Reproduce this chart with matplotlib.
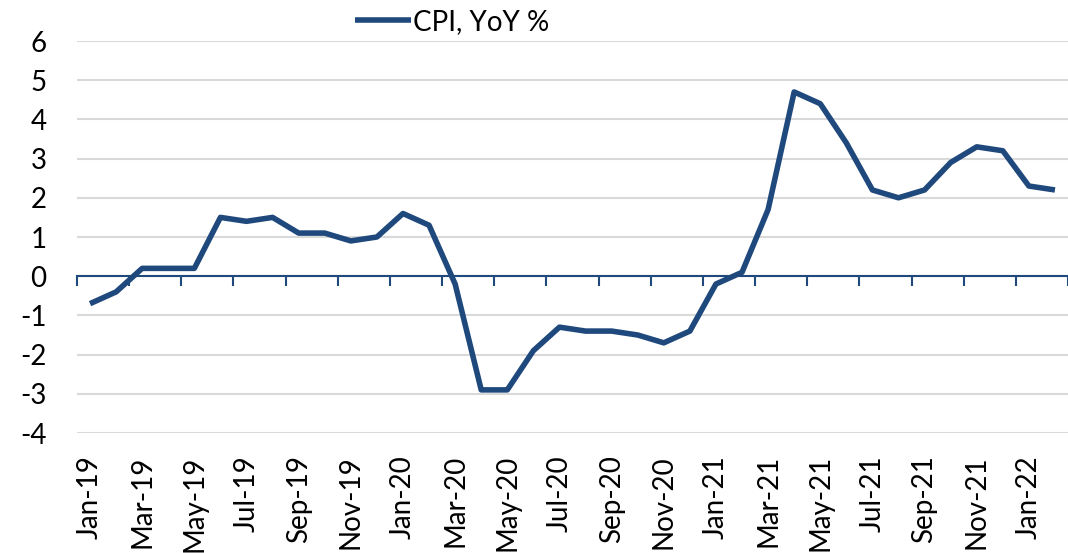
import matplotlib
matplotlib.use("Agg")
import matplotlib.pyplot as plt
import numpy as np

months = ["Jan-19","Feb-19","Mar-19","Apr-19","May-19","Jun-19","Jul-19","Aug-19","Sep-19","Oct-19","Nov-19","Dec-19",
          "Jan-20","Feb-20","Mar-20","Apr-20","May-20","Jun-20","Jul-20","Aug-20","Sep-20","Oct-20","Nov-20","Dec-20",
          "Jan-21","Feb-21","Mar-21","Apr-21","May-21","Jun-21","Jul-21","Aug-21","Sep-21","Oct-21","Nov-21","Dec-21",
          "Jan-22","Feb-22"]
cpi = [-0.7,-0.4,0.2,0.2,0.2,1.5,1.4,1.5,1.1,1.1,0.9,1.0,
       1.6,1.3,-0.2,-2.9,-2.9,-1.9,-1.3,-1.4,-1.4,-1.5,-1.7,-1.4,
       -0.2,0.1,1.7,4.7,4.4,3.4,2.2,2.0,2.2,2.9,3.3,3.2,
       2.3,2.2]
yticks = [6,5,4,3,2,1,0,-1,-2,-3,-4]

plt.rcParams['font.family'] = ['Lato', 'DejaVu Sans']
color = '#1F497D'
fs = 20

fig = plt.figure(figsize=(10.68, 5.53), dpi=100)
ax = fig.add_axes([77/1068, 1-433/553, 1-77/1068, (433-41)/553])

x = np.arange(len(months))
ax.plot(x, cpi, color=color, lw=4.0, solid_joinstyle='round', solid_capstyle='butt',
        label='CPI, YoY %', zorder=3)

ax.set_ylim(-4, 6)
ax.set_xlim(-0.5, 37.33)
ax.set_yticks(yticks)
ax.set_yticklabels([str(v) for v in yticks], fontsize=fs)
ax.tick_params(axis='y', length=0, pad=22)
ax.grid(axis='y', color='#d9d9d9', lw=1.5, zorder=0)
ax.set_axisbelow(True)

for s in ['top', 'right', 'left']:
    ax.spines[s].set_visible(False)
ax.spines['bottom'].set_position(('data', 0))
ax.spines['bottom'].set_color(color)
ax.spines['bottom'].set_linewidth(1.5)
ax.set_xticks(np.arange(-0.5, len(months), 2))
ax.set_xticklabels([])
ax.tick_params(axis='x', direction='out', length=7, width=1.5, color=color)

sec = ax.secondary_xaxis('bottom')
sec.set_xticks(x[::2])
sec.set_xticklabels(months[::2], rotation=90, fontsize=fs)
sec.tick_params(length=0, pad=16)
sec.spines['bottom'].set_visible(False)

fig.legend(loc='center left', bbox_to_anchor=(355/1068, 1-22/553), frameon=False,
           fontsize=fs, handlelength=2.0, handletextpad=0.1, borderaxespad=0, borderpad=0)

fig.savefig('out.png', dpi=100)
